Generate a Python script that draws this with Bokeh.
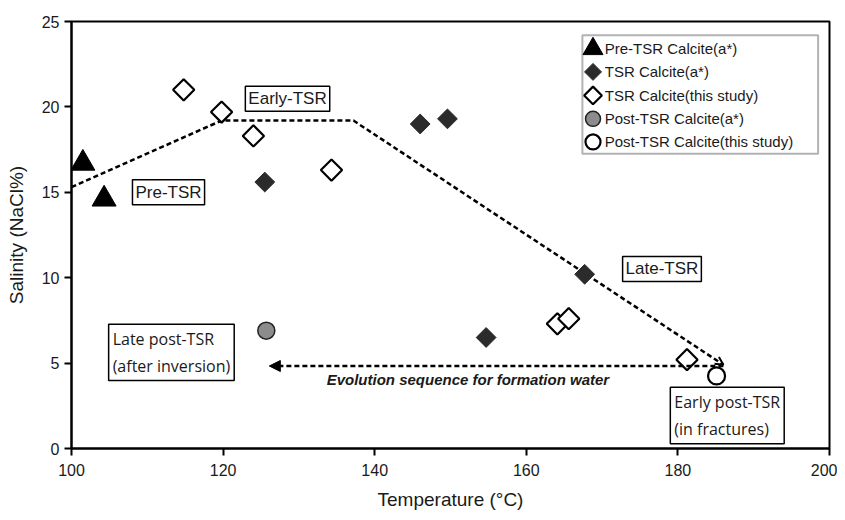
import math
from bokeh.plotting import figure
from bokeh.models import Label, Arrow, NormalHead, OpenHead, FixedTicker, BoxAnnotation
from bokeh.embed import file_html
from bokeh.resources import INLINE

# ---- data ----
pre_tsr_x = [101.5, 104.3]
pre_tsr_y = [16.7, 14.6]

tsr_a_x = [125.5, 146.0, 149.6, 154.7, 167.7]
tsr_a_y = [15.6, 19.0, 19.3, 6.5, 10.2]

tsr_study_x = [114.8, 119.8, 124.0, 134.3, 164.1, 165.6, 181.2]
tsr_study_y = [21.0, 19.7, 18.3, 16.3, 7.3, 7.6, 5.2]

post_a_x = [125.7]
post_a_y = [6.9]

post_study_x = [185.1]
post_study_y = [4.25]

trend_x = [100.0, 119.8, 137.2, 186.0]
trend_y = [15.3, 19.2, 19.2, 4.9]

evo_x = [186.0, 126.1]
evo_y = [4.83, 4.83]

legend_labels = ["Pre-TSR Calcite(a*)", "TSR Calcite(a*)", "TSR Calcite(this study)",
                 "Post-TSR Calcite(a*)", "Post-TSR Calcite(this study)"]

x_ticks = [100, 120, 140, 160, 180, 200]
y_ticks = [0, 5, 10, 15, 20, 25]

AX_FONT = "Liberation Sans"
TXT = "#1a1a1a"

p = figure(width=837, height=512, x_range=(100, 200), y_range=(0, 25),
           output_backend="svg", toolbar_location=None,
           min_border_left=71, min_border_right=8, min_border_top=21, min_border_bottom=57)
p.xgrid.visible = False
p.ygrid.visible = False
p.outline_line_color = "black"
p.outline_line_width = 2
p.background_fill_color = "white"
p.border_fill_color = "white"

for ax in (p.xaxis[0], p.yaxis[0]):
    ax.axis_line_width = 2
    ax.major_tick_line_width = 2
    ax.major_tick_out = 7
    ax.major_tick_in = 0
    ax.minor_tick_line_color = None
    ax.major_label_text_font = AX_FONT
    ax.major_label_text_font_size = "16px"
    ax.major_label_text_color = TXT
    ax.axis_label_text_font = AX_FONT
    ax.axis_label_text_font_size = "19px"
    ax.axis_label_text_font_style = "normal"
    ax.axis_label_text_color = TXT
p.xaxis.ticker = FixedTicker(ticks=x_ticks)
p.yaxis.ticker = FixedTicker(ticks=y_ticks)
p.xaxis.axis_label = "Temperature (°C)"
p.yaxis.axis_label = "Salinity (NaCl%)"
p.xaxis.major_label_standoff = 8
p.xaxis.axis_label_standoff = 10
p.yaxis.axis_label_standoff = 12

# trend lines
p.line(trend_x, trend_y, line_color="black", line_width=2.5, line_dash="5 3")
p.add_layout(Arrow(end=OpenHead(size=8, line_color="black", line_width=2),
                   x_start=trend_x[2], y_start=trend_y[2], x_end=trend_x[3], y_end=trend_y[3],
                   line_alpha=0))
p.add_layout(Arrow(end=NormalHead(size=11, fill_color="black", line_color="black"),
                   x_start=evo_x[0], y_start=evo_y[0], x_end=evo_x[1], y_end=evo_y[1],
                   line_color="black", line_width=2.5, line_dash="5 3"))

# markers
TRI = dict(marker="triangle", size=24, fill_color="black", line_color="black")
DIA_F = dict(marker="square", angle=math.pi / 4, size=14, fill_color="#2b2b2b", line_color="#2b2b2b")
DIA_O = dict(marker="square", angle=math.pi / 4, size=15, fill_color="white", line_color="black", line_width=2.2)
CIR_F = dict(marker="circle", size=17, fill_color="#8c8c8c", line_color="#222222", line_width=1.5)
CIR_O = dict(marker="circle", size=17, fill_color="white", line_color="black", line_width=2.2)

p.scatter(pre_tsr_x, pre_tsr_y, **TRI)
p.scatter(tsr_a_x, tsr_a_y, **DIA_F)
p.scatter(tsr_study_x, tsr_study_y, **DIA_O)
p.scatter(post_a_x, post_a_y, **CIR_F)
p.scatter(post_study_x, post_study_y, **CIR_O)

# ---- legend (drawn manually so the symbols keep their full size) ----
p.add_layout(BoxAnnotation(left=167.4, right=198.5, top=24.2, bottom=17.25, level="underlay",
                           fill_color="white", fill_alpha=1, line_color="black", line_width=2))
leg_x = 168.8
leg_rows = [23.4, 22.05, 20.67, 19.3, 17.95]
leg_styles = [dict(TRI, size=20), dict(DIA_F, size=12), dict(DIA_O, size=12.5),
              dict(CIR_F, size=15), dict(CIR_O, size=15)]
for yy, st, lab in zip(leg_rows, leg_styles, legend_labels):
    p.scatter([leg_x], [yy], **st)
    p.add_layout(Label(x=leg_x + 1.55, y=yy, text=lab, text_align="left", text_baseline="middle",
                       text_font="Liberation Sans", text_font_size="15px", text_color=TXT))

# ---- annotation boxes ----
BOX = dict(border_line_color="black", border_line_width=1.5, background_fill_color="white",
           text_color=TXT)

p.add_layout(Label(x=112.8, y=15.0, text="Pre-TSR", text_align="center", text_baseline="middle",
                   text_font="Liberation Sans", text_font_size="17px", padding=3, **BOX))
p.add_layout(Label(x=128.5, y=20.47, text="Early-TSR", text_align="center", text_baseline="middle",
                   text_font="Liberation Sans", text_font_size="17px", padding=3, **BOX))
p.add_layout(Label(x=177.9, y=10.51, text="Late-TSR", text_align="center", text_baseline="middle",
                   text_font="Liberation Sans", text_font_size="17px", padding=3, **BOX))
p.add_layout(Label(x=104.9, y=5.63, text="Late post-TSR\n(after inversion)", text_align="left",
                   text_baseline="middle", text_font="Open Sans", text_font_size="16px", padding=4, **BOX))
p.add_layout(Label(x=179.0, y=1.93, text="Early post-TSR\n(in fractures)", text_align="left",
                   text_baseline="middle", text_font="Open Sans", text_font_size="16px", padding=4, **BOX))
p.add_layout(Label(x=152.3, y=4.04, text="Evolution sequence for formation water", text_align="center",
                   text_baseline="middle", text_font="Liberation Sans", text_font_size="15px",
                   text_font_style="bold italic", text_color=TXT))

open("out.html", "w").write(file_html(p, INLINE))
